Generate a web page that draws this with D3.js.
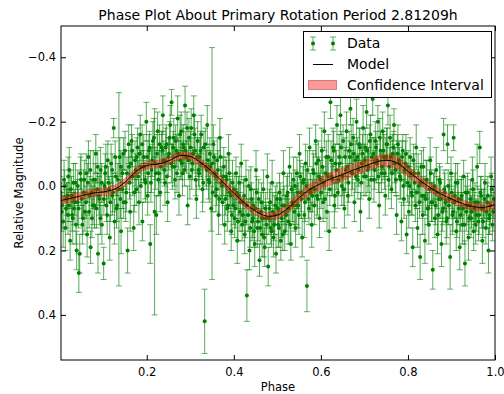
<!DOCTYPE html>
<html>
<head>
<meta charset="utf-8">
<script src="https://cdn.jsdelivr.net/npm/d3@7"></script>
<style>
  body { margin: 0; background: #fff; }
  svg text { font-family: "DejaVu Sans", sans-serif; fill: #000; }
</style>
</head>
<body>
<svg id="chart" width="504" height="394"></svg>
<script>
// model curve, sampled every 0.025 in phase
var modelPhase = d3.range(0, 1.0001, 0.025);
var modelMag = [0.046, 0.038, 0.030, 0.022, 0.018, 0.010, -0.012, -0.045, -0.064, -0.068,
  -0.078, -0.094, -0.092, -0.072, -0.045, -0.012, 0.022, 0.053, 0.078, 0.093,
  0.090, 0.068, 0.036, 0.010, -0.008, -0.024, -0.036, -0.050, -0.062, -0.074,
  -0.080, -0.072, -0.046, -0.020, 0.004, 0.024, 0.040, 0.054, 0.064, 0.066, 0.058];
// half width of the confidence band
var bandHalf = [0.013, 0.012, 0.012, 0.012, 0.012, 0.012, 0.012, 0.012, 0.012, 0.012,
  0.012, 0.012, 0.012, 0.012, 0.012, 0.012, 0.012, 0.012, 0.012, 0.012,
  0.013, 0.014, 0.016, 0.018, 0.019, 0.020, 0.020, 0.019, 0.018, 0.018,
  0.019, 0.019, 0.017, 0.015, 0.014, 0.013, 0.013, 0.012, 0.012, 0.013, 0.014];

// observations: [phase, relative magnitude, error] -- the wide scatter
var obs = [
  [.005,.06,.07],[.008,.11,.08],[.010,-.02,.06],[.013,.13,.07],[.016,.04,.05],[.019,.09,.06],
  [.022,-.05,.07],[.024,.17,.06],[.027,.03,.06],[.030,.10,.08],[.033,.07,.05],[.036,-.01,.06],[.039,.20,.06],
  [.041,.05,.07],[.044,.27,.06],[.046,.21,.06],[.049,-.02,.08],[.052,.12,.06],[.055,.02,.07],[.058,.08,.06],
  [.061,-.04,.06],[.063,.15,.07],[.066,-.09,.05],[.069,.03,.06],[.071,.19,.05],[.074,.10,.06],[.077,-.02,.09],
  [.080,.06,.07],[.083,-.10,.06],[.086,.01,.05],[.088,.21,.06],[.091,.04,.08],[.094,-.05,.07],[.097,.12,.06],
  [.101,.24,.05],[.103,.00,.06],[.106,-.06,.07],[.109,.09,.06],[.112,-.01,.05],[.115,.16,.07],[.118,-.07,.06],
  [.121,.03,.06],[.124,-.18,.03],[.126,.11,.07],[.129,-.03,.06],[.132,.06,.05],[.136,.01,.30],[.138,-.09,.06],
  [.141,.14,.07],[.144,-.04,.06],[.147,.05,.05],[.150,-.11,.06],[.153,.02,.06],[.156,.20,.07],[.159,-.06,.05],
  [.162,.08,.06],[.165,-.14,.05],[.167,-.03,.06],[.170,.13,.07],[.173,-.08,.06],[.176,.01,.05],[.179,-.12,.06],
  [.182,.05,.07],[.185,-.16,.06],[.187,-.06,.05],[.190,.11,.06],[.193,-.09,.07],[.196,-.02,.06],[.199,-.20,.06],
  [.202,.03,.06],[.205,-.11,.05],[.208,.18,.06],[.211,-.05,.07],[.214,-.14,.06],[.218,.08,.32],[.219,-.07,.05],
  [.222,.09,.06],[.225,-.17,.06],[.228,-.04,.07],[.231,.02,.06],[.234,-.12,.05],[.237,-.22,.06],[.239,-.08,.06],
  [.242,-.01,.07],[.245,-.13,.06],[.248,.05,.06],[.251,-.10,.05],[.254,-.19,.06],[.257,-.26,.04],[.259,-.06,.07],
  [.262,-.15,.06],[.265,-.02,.06],[.268,-.11,.05],[.271,-.21,.07],[.274,.03,.06],[.277,-.08,.06],[.279,-.17,.06],
  [.282,-.04,.07],[.285,-.12,.06],[.288,-.25,.06],[.291,-.09,.05],[.294,.06,.06],[.297,-.15,.06],[.299,-.03,.07],
  [.302,-.18,.06],[.305,-.07,.05],[.308,-.22,.06],[.311,-.11,.07],[.314,.04,.06],[.317,-.14,.06],[.319,-.05,.05],
  [.322,-.09,.06],[.325,-.16,.06],[.328,.01,.07],[.331,-.12,.05],[.333,.42,.10],[.336,-.06,.06],[.339,-.19,.06],
  [.342,-.02,.06],[.345,-.10,.05],[.348,.07,.07],[.350,-.07,.36],[.353,-.13,.06],[.356,-.04,.06],[.359,.03,.05],
  [.362,-.08,.07],[.365,.09,.06],[.368,-.15,.06],[.371,-.01,.05],[.374,.05,.07],[.377,-.06,.06],[.379,.12,.06],
  [.382,-.03,.06],[.385,.07,.07],[.388,-.10,.06],[.391,.02,.05],[.394,.14,.06],[.397,-.01,.07],[.399,.06,.06],
  [.402,.10,.06],[.405,-.04,.05],[.408,.17,.07],[.411,.03,.06],[.414,.08,.06],[.417,-.07,.06],[.419,.12,.05],
  [.422,.05,.07],[.425,.15,.06],[.428,-.02,.06],[.430,.34,.08],[.433,.09,.05],[.436,.20,.06],[.439,.01,.07],
  [.442,.11,.06],[.445,.06,.05],[.448,.18,.07],[.451,-.05,.06],[.454,.13,.06],[.457,.04,.06],[.459,.23,.05],
  [.462,.08,.06],[.465,.15,.07],[.468,.01,.06],[.471,.19,.06],[.474,.10,.05],[.477,-.03,.07],[.479,.25,.06],
  [.482,.07,.06],[.485,.13,.05],[.488,-.01,.07],[.491,.16,.06],[.494,.09,.06],[.497,.21,.06],[.499,.04,.05],
  [.502,.12,.07],[.505,.02,.06],[.508,.17,.06],[.511,.06,.05],[.514,-.04,.07],[.517,.14,.06],[.519,.09,.06],
  [.522,.03,.06],[.525,.11,.07],[.528,-.06,.06],[.531,.18,.05],[.534,.05,.06],[.537,-.02,.07],[.539,.08,.06],
  [.542,.13,.06],[.545,-.04,.05],[.548,.06,.07],[.551,-.10,.06],[.554,.02,.06],[.557,.16,.06],[.559,-.01,.05],
  [.562,.09,.07],[.565,-.07,.06],[.568,.31,.08],[.571,.04,.06],[.574,-.12,.06],[.577,.01,.05],[.579,.12,.07],
  [.582,-.05,.06],[.585,.06,.06],[.588,-.14,.05],[.591,.03,.07],[.594,-.08,.06],[.597,.10,.06],[.599,-.02,.06],
  [.602,-.11,.07],[.605,.05,.06],[.608,-.17,.06],[.611,-.04,.05],[.614,.08,.06],[.617,-.09,.07],[.619,.14,.06],
  [.622,-.26,.05],[.625,-.03,.06],[.628,-.12,.06],[.631,.06,.07],[.634,-.07,.06],[.637,-.19,.06],[.639,.02,.05],
  [.642,-.09,.07],[.645,-.22,.06],[.648,.00,.06],[.651,-.14,.05],[.654,.07,.06],[.657,-.05,.07],[.659,-.17,.06],
  [.662,.03,.06],[.665,-.11,.06],[.668,-.24,.05],[.671,-.04,.07],[.674,-.15,.06],[.677,.05,.06],[.679,-.08,.06],
  [.682,-.20,.07],[.685,-.02,.06],[.688,-.13,.05],[.691,.08,.06],[.694,-.07,.06],[.697,-.18,.07],[.699,-.03,.06],
  [.702,-.12,.06],[.705,-.23,.05],[.708,-.05,.07],[.711,.04,.06],[.714,-.16,.06],[.717,-.09,.06],[.719,-.27,.05],
  [.722,-.02,.07],[.725,-.14,.06],[.728,-.07,.06],[.731,-.20,.05],[.734,.06,.07],[.737,-.11,.06],[.739,-.04,.06],
  [.742,-.17,.06],[.745,-.09,.07],[.748,.03,.06],[.751,-.13,.05],[.754,-.25,.06],[.757,-.06,.06],[.759,-.15,.07],
  [.762,.01,.06],[.765,-.10,.06],[.768,-.19,.05],[.771,-.05,.07],[.774,.09,.06],[.777,-.13,.06],[.779,-.08,.06],
  [.782,-.03,.07],[.785,.11,.06],[.788,-.11,.05],[.791,.04,.06],[.794,-.07,.07],[.797,.15,.06],[.799,-.01,.06],
  [.802,.08,.05],[.805,-.09,.06],[.808,.02,.07],[.811,.19,.06],[.814,-.04,.06],[.817,.06,.05],[.819,-.12,.07],
  [.822,.13,.06],[.825,.00,.06],[.828,.22,.07],[.831,-.06,.05],[.834,.09,.06],[.837,.03,.06],[.839,.17,.07],
  [.842,-.02,.06],[.845,.07,.05],[.848,.12,.06],[.851,-.08,.07],[.854,.05,.06],[.857,.26,.06],[.859,.01,.05],
  [.862,.10,.06],[.865,-.05,.07],[.868,.15,.06],[.871,.04,.06],[.874,-.01,.05],[.877,.18,.07],[.879,.08,.06],
  [.882,-.16,.05],[.885,.02,.06],[.888,.11,.07],[.891,-.13,.06],[.894,.06,.06],[.897,.22,.10],[.899,-.04,.05],
  [.902,.09,.06],[.905,-.15,.04],[.908,.03,.07],[.911,.14,.06],[.914,-.01,.06],[.917,.07,.05],[.919,.19,.07],
  [.922,.04,.06],[.925,.12,.06],[.928,-.03,.05],[.931,.24,.07],[.934,.08,.06],[.937,.02,.06],[.939,.16,.07],
  [.942,.06,.05],[.945,.10,.06],[.948,-.02,.07],[.951,.14,.06],[.954,.05,.06],[.957,.09,.05],[.959,-.06,.07],
  [.962,.11,.06],[.965,-.12,.05],[.968,.03,.06],[.971,.17,.07],[.974,.07,.06],[.977,-.01,.06],[.979,.13,.05],
  [.982,.05,.06],[.985,.20,.07],[.988,.09,.06],[.991,-.03,.06],[.994,.12,.05],[.997,.04,.06]
];

// observations close to the model: [phase, relative magnitude, error]
var obsCore = [
  [.0015,.02,.05],[.0045,.08,.06],[.0115,.00,.05],[.0145,.07,.06],[.0175,.03,.04],[.0195,-.03,.06],
  [.0215,.06,.05],[.0255,.01,.06],[.0285,.09,.05],[.0315,-.01,.06],[.0345,.05,.04],[.0375,.12,.06],
  [.0415,.00,.05],[.0435,.07,.06],[.0475,-.04,.05],[.0505,.04,.06],[.0535,.10,.05],[.0565,-.02,.06],
  [.0605,.05,.05],[.0645,-.01,.06],[.0675,.08,.05],[.0705,-.05,.06],[.0735,.02,.04],[.0765,.06,.06],
  [.0815,-.02,.05],[.0845,.07,.06],[.0875,-.06,.05],[.0905,.03,.06],[.0935,.10,.05],[.0965,-.01,.06],
  [.1015,.04,.05],[.1045,-.04,.06],[.1075,.06,.05],[.1105,-.08,.06],[.1135,.01,.04],[.1165,.05,.06],
  [.1205,-.05,.05],[.1225,.02,.06],[.1275,-.09,.05],[.1305,.07,.06],[.1335,-.02,.05],[.1395,.04,.06],
  [.1405,-.06,.05],[.1435,.01,.06],[.1465,-.10,.05],[.1515,.05,.06],[.1545,-.04,.05],[.1585,-.13,.06],
  [.1605,-.01,.05],[.1635,-.07,.06],[.1665,-.11,.05],[.1715,.02,.06],[.1745,-.05,.05],[.1775,-.09,.06],
  [.1805,-.03,.05],[.1835,-.10,.06],[.1865,.00,.05],[.1895,-.13,.06],[.1925,-.06,.05],[.1975,-.01,.06],
  [.2005,-.09,.05],[.2035,-.04,.06],[.2065,-.12,.05],[.2095,-.01,.06],[.2125,-.08,.05],[.2165,-.15,.06],
  [.2205,-.04,.05],[.2235,-.10,.06],[.2265,-.02,.05],[.2295,-.13,.06],[.2325,-.06,.05],[.2365,-.11,.06],
  [.2405,-.05,.05],[.2435,-.12,.06],[.2465,-.03,.05],[.2495,-.09,.06],[.2525,-.15,.05],[.2565,-.07,.06],
  [.2605,-.12,.05],[.2635,-.06,.06],[.2665,-.14,.05],[.2695,-.04,.06],[.2725,-.10,.05],[.2765,-.16,.06],
  [.2805,-.07,.05],[.2835,-.13,.06],[.2865,-.05,.05],[.2895,-.11,.06],[.2925,-.18,.05],[.2955,-.08,.06],
  [.3005,-.12,.05],[.3035,-.05,.06],[.3065,-.10,.05],[.3095,-.16,.06],[.3125,-.02,.05],[.3155,-.09,.06],
  [.3205,-.04,.05],[.3235,-.11,.06],[.3265,-.07,.05],[.3295,-.01,.06],[.3345,-.13,.05],[.3375,-.05,.06],
  [.3405,-.08,.05],[.3435,-.01,.06],[.3465,-.06,.05],[.3515,.02,.06],[.3545,-.09,.05],[.3575,-.03,.06],
  [.3605,.01,.05],[.3635,-.05,.06],[.3665,.04,.05],[.3695,-.09,.06],[.3725,.00,.05],[.3755,-.03,.06],
  [.3805,.04,.05],[.3835,-.02,.06],[.3865,.06,.05],[.3895,-.04,.06],[.3925,.03,.05],[.3955,.09,.06],
  [.4005,.01,.05],[.4035,.07,.06],[.4065,.02,.05],[.4095,.11,.06],[.4125,-.01,.05],[.4155,.05,.06],
  [.4205,.09,.05],[.4235,.03,.06],[.4265,.11,.05],[.4295,.06,.06],[.4345,.00,.05],[.4375,.13,.06],
  [.4405,.04,.05],[.4435,.10,.06],[.4465,.14,.05],[.4495,.07,.06],[.4525,.02,.05],[.4555,.11,.06],
  [.4605,.13,.05],[.4635,.05,.06],[.4665,.10,.05],[.4695,.16,.06],[.4725,.07,.05],[.4755,.12,.06],
  [.4805,.10,.05],[.4835,.05,.06],[.4865,.14,.05],[.4895,.08,.06],[.4925,.12,.05],[.4955,.06,.06],
  [.5005,.07,.05],[.5035,.13,.06],[.5065,.04,.05],[.5095,.10,.06],[.5125,.15,.05],[.5155,.06,.06],
  [.5205,.09,.05],[.5235,.02,.06],[.5265,.07,.05],[.5295,.12,.06],[.5325,.01,.05],[.5355,.06,.06],
  [.5405,.00,.05],[.5435,.06,.06],[.5465,.02,.05],[.5495,.09,.06],[.5525,-.03,.05],[.5555,.04,.06],
  [.5605,-.02,.05],[.5635,.05,.06],[.5665,.00,.05],[.5695,-.05,.06],[.5725,.07,.05],[.5755,.02,.06],
  [.5805,.03,.05],[.5835,-.04,.06],[.5865,.01,.05],[.5895,-.07,.06],[.5925,.04,.05],[.5955,-.03,.06],
  [.6005,.02,.05],[.6035,-.06,.06],[.6065,-.01,.05],[.6095,.04,.06],[.6125,-.09,.05],[.6155,-.03,.06],
  [.6205,.01,.05],[.6235,-.08,.06],[.6265,-.02,.05],[.6295,-.11,.06],[.6325,.03,.05],[.6355,-.05,.06],
  [.6405,-.02,.05],[.6435,-.07,.06],[.6465,-.12,.05],[.6495,-.03,.06],[.6525,.01,.05],[.6555,-.09,.06],
  [.6605,-.06,.05],[.6635,-.01,.06],[.6665,-.09,.05],[.6695,-.13,.06],[.6725,-.04,.05],[.6755,-.10,.06],
  [.6805,-.03,.05],[.6835,-.09,.06],[.6865,-.05,.05],[.6895,-.12,.06],[.6925,-.01,.05],[.6955,-.10,.06],
  [.7005,-.08,.05],[.7035,-.03,.06],[.7065,-.11,.05],[.7095,-.06,.06],[.7125,-.14,.05],[.7155,-.02,.06],
  [.7205,-.10,.05],[.7235,-.05,.06],[.7265,-.12,.05],[.7295,-.08,.06],[.7325,-.03,.05],[.7355,-.15,.06],
  [.7405,-.06,.05],[.7435,-.11,.06],[.7465,-.04,.05],[.7495,-.09,.06],[.7525,-.13,.05],[.7555,-.02,.06],
  [.7605,-.09,.05],[.7635,-.04,.06],[.7665,-.12,.05],[.7695,-.07,.06],[.7725,-.02,.05],[.7755,-.10,.06],
  [.7805,-.07,.05],[.7835,-.02,.06],[.7865,-.09,.05],[.7895,.00,.06],[.7925,-.05,.05],[.7955,-.10,.06],
  [.8005,-.06,.05],[.8035,.00,.06],[.8065,-.04,.05],[.8095,.03,.06],[.8125,-.08,.05],[.8155,-.01,.06],
  [.8205,.02,.05],[.8235,-.04,.06],[.8265,.05,.05],[.8295,-.01,.06],[.8325,.03,.05],[.8355,-.06,.06],
  [.8405,.04,.05],[.8435,-.02,.06],[.8465,.07,.05],[.8495,.01,.06],[.8525,-.04,.05],[.8555,.05,.06],
  [.8605,.00,.05],[.8635,.06,.06],[.8665,.02,.05],[.8695,.09,.06],[.8725,-.02,.05],[.8755,.04,.06],
  [.8805,.07,.05],[.8835,.01,.06],[.8865,.05,.05],[.8895,.10,.06],[.8925,.00,.05],[.8955,.04,.06],
  [.9005,.02,.05],[.9035,.08,.06],[.9065,.05,.05],[.9095,-.01,.06],[.9125,.11,.05],[.9155,.04,.06],
  [.9205,.09,.05],[.9235,.03,.06],[.9265,.07,.05],[.9295,.12,.06],[.9325,.02,.05],[.9355,.06,.06],
  [.9405,.10,.05],[.9435,.04,.06],[.9465,.08,.05],[.9495,.01,.06],[.9525,.07,.05],[.9555,.12,.06],
  [.9605,.05,.05],[.9635,.09,.06],[.9665,.02,.05],[.9695,.07,.06],[.9725,.11,.05],[.9755,.04,.06],
  [.9805,.08,.05],[.9835,.03,.06],[.9865,.10,.05],[.9895,.06,.06],[.9925,.01,.05],[.9955,.08,.06]
];

var xTicks = [0.2, 0.4, 0.6, 0.8, 1.0];
var yTicks = [-0.4, -0.2, 0.0, 0.2, 0.4];
var legendLabels = ['Data', 'Model', 'Confidence Interval'];

var plotLeft = 61, plotRight = 495, plotTop = 26, plotBottom = 360;

var svg = d3.select('#chart');
var x = d3.scaleLinear().domain([0.003, 1.0]).range([plotLeft, plotRight]);
// magnitude axis is inverted: brighter (negative) at the top
var y = d3.scaleLinear().domain([-0.497, 0.54]).range([plotTop, plotBottom]);

var fmt = function(d) { return d3.format('.1f')(d).replace('-', '\u2212'); };
var allObs = obs.concat(obsCore).sort(function(a, b) { return a[0] - b[0]; });

svg.append('defs').append('clipPath').attr('id', 'clip')
  .append('rect')
    .attr('x', plotLeft).attr('y', plotTop)
    .attr('width', plotRight - plotLeft).attr('height', plotBottom - plotTop);

var plot = svg.append('g').attr('clip-path', 'url(#clip)');

// error bars
var bars = plot.append('g')
    .attr('stroke', '#008000')
    .attr('stroke-opacity', 0.65)
    .attr('stroke-width', 1);
bars.selectAll('line.bar')
    .data(allObs)
  .enter().append('line')
    .attr('class', 'bar')
    .attr('x1', function(d) { return x(d[0]); })
    .attr('x2', function(d) { return x(d[0]); })
    .attr('y1', function(d) { return y(d[1] - d[2]); })
    .attr('y2', function(d) { return y(d[1] + d[2]); });
bars.selectAll('path.cap')
    .data(allObs)
  .enter().append('path')
    .attr('class', 'cap')
    .attr('stroke-opacity', 0.6)
    .attr('d', function(d) {
      var cx = x(d[0]), y1 = y(d[1] - d[2]), y2 = y(d[1] + d[2]);
      return 'M' + (cx - 3) + ',' + y1 + 'H' + (cx + 3) +
          'M' + (cx - 3) + ',' + y2 + 'H' + (cx + 3);
    });

plot.append('g').selectAll('circle')
    .data(allObs)
  .enter().append('circle')
    .attr('cx', function(d) { return x(d[0]); })
    .attr('cy', function(d) { return y(d[1]); })
    .attr('r', 2)
    .attr('fill', '#008000');

// confidence band and model line on top of the data
var idx = d3.range(modelPhase.length);
plot.append('path')
    .datum(idx)
    .attr('fill', 'red')
    .attr('fill-opacity', 0.4)
    .attr('stroke', 'red')
    .attr('stroke-opacity', 0.25)
    .attr('d', d3.area()
      .curve(d3.curveCatmullRom)
      .x(function(i) { return x(modelPhase[i]); })
      .y0(function(i) { return y(modelMag[i] - bandHalf[i]); })
      .y1(function(i) { return y(modelMag[i] + bandHalf[i]); }));

plot.append('path')
    .datum(idx)
    .attr('fill', 'none')
    .attr('stroke', '#000')
    .attr('stroke-width', 1)
    .attr('d', d3.line()
      .curve(d3.curveCatmullRom)
      .x(function(i) { return x(modelPhase[i]); })
      .y(function(i) { return y(modelMag[i]); }));

// axes: inward ticks on all four sides, like matplotlib classic
var axBottom = svg.append('g').attr('transform', 'translate(0,' + plotBottom + ')')
    .call(d3.axisBottom(x).tickValues(xTicks).tickSizeInner(-5).tickSizeOuter(0)
      .tickPadding(8).tickFormat(fmt));
var axTop = svg.append('g').attr('transform', 'translate(0,' + plotTop + ')')
    .call(d3.axisTop(x).tickValues(xTicks).tickSizeInner(-5).tickSizeOuter(0)
      .tickFormat(''));
var axLeft = svg.append('g').attr('transform', 'translate(' + plotLeft + ',0)')
    .call(d3.axisLeft(y).tickValues(yTicks).tickSizeInner(-5).tickSizeOuter(0)
      .tickPadding(5).tickFormat(fmt));
var axRight = svg.append('g').attr('transform', 'translate(' + plotRight + ',0)')
    .call(d3.axisRight(y).tickValues(yTicks).tickSizeInner(-5).tickSizeOuter(0)
      .tickFormat(''));

[axBottom, axTop, axLeft, axRight].forEach(function(a) {
  a.select('.domain').remove();
  a.selectAll('line').attr('stroke', '#000');
  a.selectAll('text').attr('font-size', 11.5).attr('font-family', 'DejaVu Sans');
});

svg.append('rect')
    .attr('x', plotLeft).attr('y', plotTop)
    .attr('width', plotRight - plotLeft).attr('height', plotBottom - plotTop)
    .attr('fill', 'none')
    .attr('stroke', '#000')
    .attr('stroke-width', 1);

svg.append('text')
    .attr('x', (plotLeft + plotRight) / 2).attr('y', 20)
    .attr('text-anchor', 'middle')
    .attr('font-size', 14)
    .text('Phase Plot About Primary Rotation Period 2.81209h');

svg.append('text')
    .attr('x', (plotLeft + plotRight) / 2).attr('y', 391)
    .attr('text-anchor', 'middle')
    .attr('font-size', 11.5)
    .text('Phase');

svg.append('text')
    .attr('transform', 'translate(23,' + (plotTop + plotBottom) / 2 + ') rotate(-90)')
    .attr('text-anchor', 'middle')
    .attr('font-size', 11.5)
    .text('Relative Magnitude');

// legend
var lg = svg.append('g');
lg.append('rect')
    .attr('x', 303.5).attr('y', 31.5)
    .attr('width', 188).attr('height', 66)
    .attr('fill', '#fff')
    .attr('stroke', '#000');

[313, 333].forEach(function(cx) {
  lg.append('line').attr('x1', cx).attr('x2', cx).attr('y1', 37).attr('y2', 50)
      .attr('stroke', '#008000').attr('stroke-opacity', 0.65);
  lg.append('path').attr('d', 'M' + (cx - 3) + ',37H' + (cx + 3) + 'M' + (cx - 3) + ',50H' + (cx + 3))
      .attr('stroke', '#008000').attr('stroke-opacity', 0.6);
  lg.append('circle').attr('cx', cx).attr('cy', 43.5).attr('r', 2).attr('fill', '#008000');
});
lg.append('line').attr('x1', 313).attr('x2', 333).attr('y1', 64.5).attr('y2', 64.5)
    .attr('stroke', '#000');
lg.append('rect').attr('x', 308.5).attr('y', 80.5).attr('width', 28).attr('height', 9)
    .attr('fill', 'red').attr('fill-opacity', 0.4)
    .attr('stroke', '#a03030').attr('stroke-opacity', 0.5);

lg.selectAll('text.lbl')
    .data(legendLabels)
  .enter().append('text')
    .attr('class', 'lbl')
    .attr('x', 347)
    .attr('y', function(d, i) { return 48 + i * 21; })
    .attr('font-size', 14)
    .text(function(d) { return d; });
</script>
</body>
</html>
